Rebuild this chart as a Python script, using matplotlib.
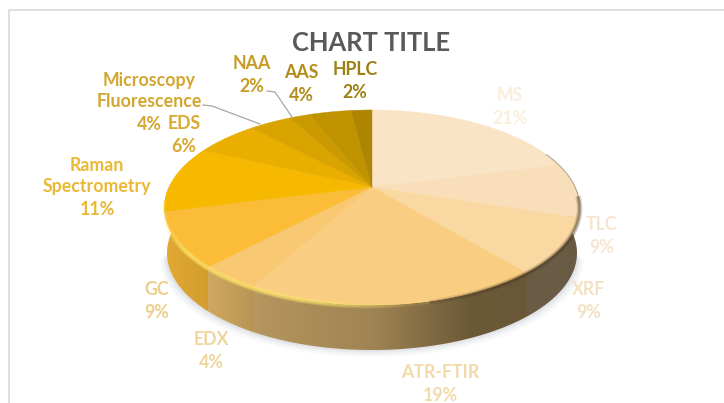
#!/usr/bin/env python3
# plot.py - tilted 3D-style pie of technique shares

import matplotlib

matplotlib.use("Agg")
import matplotlib.pyplot as plt
import numpy as np
from matplotlib.collections import LineCollection
from matplotlib.colors import to_rgb
from matplotlib.patches import PathPatch, Polygon
from matplotlib.path import Path

names = ["MS", "TLC", "XRF", "ATR-FTIR", "EDX", "GC", "Raman\nSpectrometry",
         "EDS", "Microscopy\nFluorescence", "NAA", "AAS", "HPLC"]
values = [21, 9, 9, 19, 4, 9, 11, 6, 4, 2, 4, 2]
slice_colors = ["#F9E4C6", "#F9DFB9", "#FAD8A2", "#FACE82", "#F9C872", "#FBBC38",
                "#F6B900", "#E9AE00", "#D9A300", "#CB9A00", "#BF9200", "#AD8500"]
label_colors = ["#FAEEDD", "#F6E6CF", "#F4E0C2", "#F3DAA9", "#EFD59E", "#EDCF8C",
                "#E9B834", "#D9AA32", "#D4A62F", "#C69C25", "#B38D1B", "#9E8014"]
# label centre x and baseline y of the percentage line
label_pos = [(510, 124), (602, 253), (589, 318), (440, 401), (211, 368), (157, 318),
             (97, 215), (184, 152), (149, 130), (252, 92), (301, 101), (355, 98)]

# pie projection: centre, half sizes and perspective strength
CX, CY = 372, 187
A, H, K = 203, 93.2, 0.21
DEPTH_CY, DEPTH_RX, DEPTH_RY = 253, 205, 97
LINE_PITCH = 23

plt.rcParams["font.family"] = ["Lato", "DejaVu Sans"]


def rim(theta):
    # theta is clockwise from 12 o'clock
    u, v = np.sin(theta), np.cos(theta)
    w = 1 + K * v
    return CX + A * u / w, CY - H * v / w


def bottom_rim(theta):
    return CX + DEPTH_RX * np.sin(theta), DEPTH_CY - DEPTH_RY * np.cos(theta)


fig = plt.figure(figsize=(7.24, 4.03), dpi=100)
ax = fig.add_axes([0, 0, 1, 1])
ax.set_xlim(0, 724)
ax.set_ylim(403, 0)
ax.axis("off")

# chart frame, cut by the image edges
ax.plot([724, 8.5, 8.5], [9.5, 9.5, 403], color="#D9D9D9", lw=1.2, zorder=1)

edges = np.cumsum([0] + values) / sum(values) * 2 * np.pi

# soft shadow under the body
low = np.linspace(np.pi / 2, 3 * np.pi / 2, 200)
bx, by = bottom_rim(low)
for grow, alpha in [(7, 0.03), (5, 0.04), (3, 0.05), (1.5, 0.06)]:
    ax.add_patch(Polygon(np.c_[CX + (bx - CX) * (1 + grow / 205), by + grow],
                         closed=True, fc="#55606E", ec="none", alpha=alpha, zorder=2))

# side wall: one colour per pixel column, darkening towards the right
side_th = np.linspace(np.radians(78), np.radians(282), 500)
rx, ry = rim(side_th)
bx, by = bottom_rim(side_th)
verts = np.r_[np.c_[rx, ry], np.c_[bx, by][::-1]]
clip = Path(np.r_[verts, verts[:1]], closed=True)
cols = np.arange(155, 590)
# only the front arc is monotonic in x
front = np.linspace(np.radians(102), np.radians(258), 500)
front_x = rim(front)[0]
col_theta = np.interp(cols, front_x[::-1], front[::-1])
col_slice = np.clip(np.searchsorted(edges, col_theta) - 1, 0, len(values) - 1)
shade = np.interp(cols, [165, 213, 262, 372, 470, 580], [0.90, 0.83, 0.72, 0.64, 0.43, 0.42])
side_rgb = np.array([to_rgb(slice_colors[i]) for i in col_slice]) * shade[:, None]
img = ax.imshow(side_rgb[None, :, :], extent=(155, 590, 360, 190), aspect="auto",
                interpolation="nearest", zorder=3)
ax.set_xlim(0, 724)
ax.set_ylim(403, 0)
img.set_clip_path(PathPatch(clip, transform=ax.transData))

# top face
for i, color in enumerate(slice_colors):
    th = np.linspace(edges[i], edges[i + 1], 60)
    x, y = rim(th)
    ax.add_patch(Polygon(np.r_[[[CX, CY]], np.c_[x, y]], closed=True, fc=color,
                         ec=color, lw=0.3, zorder=4))

# bevel along the front of the rim: bright on the left, dark on the right
th = np.linspace(np.radians(95), np.radians(262), 400)
x, y = rim(th)
pts = np.c_[x, y + 1.0]
segs = np.stack([pts[:-1], pts[1:]], axis=1)
mid = (x[:-1] + x[1:]) / 2
glow = np.interp(mid, [165, 185, 300, 430], [0.2, 0.8, 0.75, 0.0])
dark = np.interp(mid, [400, 500, 580], [0.0, 0.5, 0.5])
seg_rgba = np.zeros((len(mid), 4))
seg_rgba[:, :3] = np.where((glow > 0)[:, None], to_rgb("#FFE86A"), to_rgb("#4A3A20"))
for lw, scale in [(4.0, 0.45), (2.0, 0.8)]:
    seg_rgba[:, 3] = np.maximum(glow, dark) * scale
    ax.add_collection(LineCollection(segs, colors=seg_rgba.copy(), linewidths=lw, zorder=5))

# thin dark edge on the far right of the top face
th = np.linspace(np.radians(68), np.radians(100), 60)
x, y = rim(th)
ax.plot(x, y, color="#8A7A60", lw=0.8, alpha=0.6, zorder=5)

# leader lines for the two labels pushed away from their slices
ax.plot([203, 212, 260], [105, 106, 124], color="#A6A6A6", lw=0.9, zorder=6)
ax.plot([267, 275, 292], [91, 92, 117], color="#A6A6A6", lw=0.9, zorder=6)

ax.text(371, 43, "CHART TITLE", fontsize=18.4, fontweight="bold", color="#595959",
        ha="center", va="center", zorder=7)

# name and percentage are separate texts so "4%" can sit beside "EDS"
for name, value, color, (lx, ly) in zip(names, values, label_colors, label_pos):
    ax.text(lx, ly - LINE_PITCH, name, fontsize=12.8, fontweight="bold", color=color,
            ha="center", va="baseline", linespacing=1.3, zorder=7)
    ax.text(lx, ly, f"{value}%", fontsize=12.8, fontweight="bold", color=color,
            ha="center", va="baseline", zorder=7)

fig.savefig("out.png", dpi=100)
plt.close(fig)
